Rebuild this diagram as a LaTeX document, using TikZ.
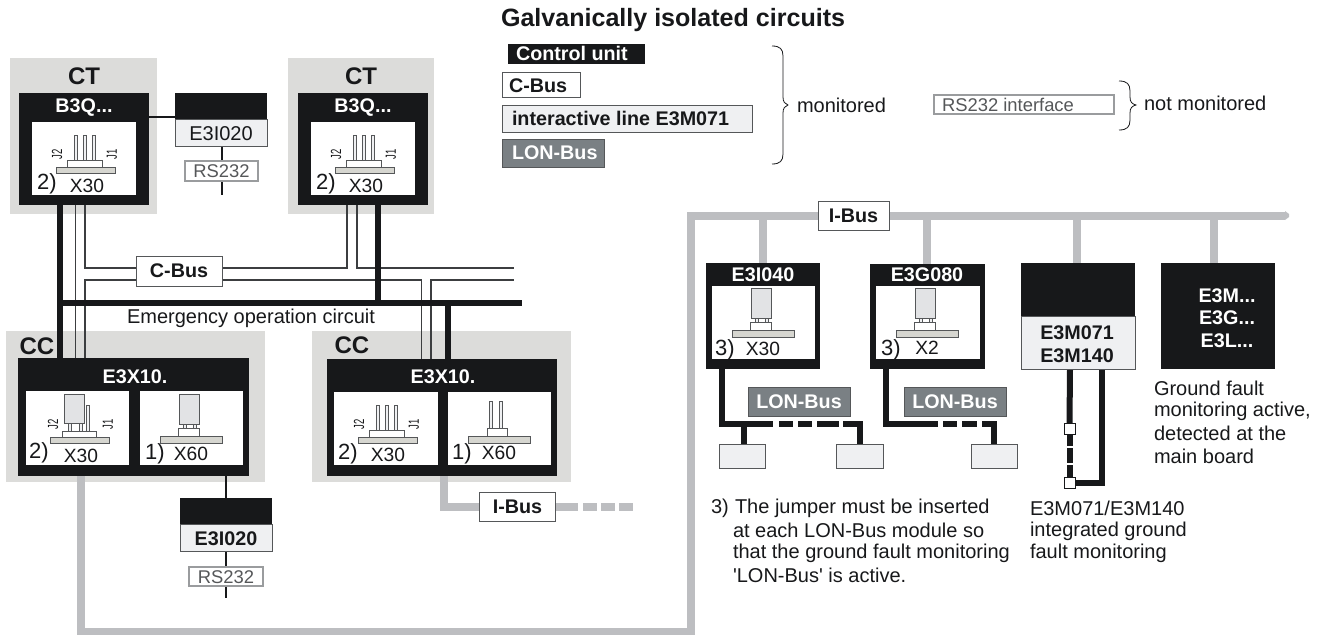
\documentclass[tikz,border=0pt]{standalone}
\usepackage{fontspec}
\setmainfont{Liberation Sans}
\newfontfamily\plainq{Liberation Sans}
\definecolor{blk}{HTML}{17181A}
\definecolor{gy}{HTML}{DCDCDA}
\definecolor{bus}{HTML}{BDBEC1}
\definecolor{lt}{HTML}{EFF0F2}
\definecolor{lon}{HTML}{7A8084}
\definecolor{edgeg}{HTML}{555759}
\definecolor{cbl}{HTML}{3C3E40}
\definecolor{rsg}{HTML}{9A9C9E}
\definecolor{plate}{HTML}{D6D6D0}
\definecolor{jmp}{HTML}{E2E3E5}
\pgfdeclarelayer{back}\pgfdeclarelayer{wires}\pgfsetlayers{back,wires,main}
\newcommand{\fs}[1]{\fontsize{#1}{#1}\selectfont}
\tikzset{
  x=0.75pt,y=-0.75pt,
  every node/.style={inner sep=0pt,outer sep=0pt},
  ggbg/.style={fill=gy,draw=none},
  blackbox/.style={fill=blk,draw=none},
  whitebox/.style={fill=white,draw=none},
  ltbox/.style={fill=lt,draw=edgeg,line width=0.7pt},
  wbus/.style={fill=white,draw=edgeg,line width=0.7pt},
  lonbox/.style={fill=lon,draw=edgeg,line width=0.7pt},
  rsbox/.style={fill=white,draw=rsg,line width=0.8pt},
  thickwire/.style={draw=blk,line width=4.5pt},
  thinwire/.style={draw=blk,line width=1.5pt},
  cbusline/.style={draw=cbl,line width=0.8pt},
  ibus/.style={draw=bus,line width=6pt},
  titlew/.style={text=white,font=\bfseries\fs{14.8}},
  titleb/.style={text=blk,font=\bfseries\fs{14.8}},
  headb/.style={text=blk,font=\bfseries\fs{18}},
  lab/.style={text=blk,font=\fs{15}},
  xlab/.style={text=blk,font=\fs{14.4}},
  numlab/.style={text=blk,font=\fs{16.5}},
  rstext/.style={text=edgeg,font=\fs{13.8}},
  para/.style={text=blk,font=\fs{15},anchor=west},
  jlab/.style={text=blk,font=\fs{11},rotate=90},
  pinr/.style={fill=plate,draw=edgeg,line width=0.5pt},
  hous/.style={fill=white,draw=edgeg,line width=0.5pt},
  jmpst/.style={fill=jmp,draw=edgeg,line width=0.6pt},
  pinst/.style={fill=lt,draw=edgeg,line width=0.4pt},
  sqst/.style={fill=white,draw=blk,line width=0.7pt},
  bracest/.style={draw=blk,line width=0.6pt},
}
\newcommand{\bx}[5]{\path[#1] (#2,#3) rectangle (#4,#5);}
% style, name, x1,y1,x2,y2, text
\newcommand{\bxn}[7]{\node[#1,minimum width={(#5-#3)*0.75pt},minimum height={(#6-#4)*0.75pt}] (#2) at ({(#3+#5)/2},{(#4+#6)/2}) {#7};}
\newcommand{\tx}[5]{\node[#1] (#2) at (#3,#4) {#5};}
\newcommand{\jt}[1]{\scalebox{.65}[1]{#1}}
\newcommand{\threepins}[2]{%
  \bx{pinst}{#1+18.5}{#2-32}{#1+21.5}{#2-6}
  \bx{pinst}{#1+27.5}{#2-32}{#1+30.5}{#2-6}
  \bx{pinst}{#1+36.5}{#2-32}{#1+39.5}{#2-6}
  \bx{hous}{#1+11}{#2-7}{#1+46}{#2}
  \bx{pinr}{#1}{#2}{#1+59}{#2+6.5}
  \node[jlab] (jb#1) at (#1+1,#2-13) {\jt{J2}};
  \node[jlab] (ja#1) at (#1+56,#2-13) {\jt{J1}};
}
\newcommand{\jumperpins}[2]{%
  \bx{pinst}{#1+36}{#2-32}{#1+39}{#2-6}
  \bx{pinst}{#1+18}{#2-14}{#1+21}{#2-6}
  \bx{pinst}{#1+29}{#2-14}{#1+32}{#2-6}
  \bx{jmpst}{#1+14}{#2-43}{#1+34}{#2-14}
  \bx{hous}{#1+12}{#2-6}{#1+46}{#2}
  \bx{pinr}{#1}{#2}{#1+59}{#2+6.5}
  \node[jlab] (jb#1) at (#1+3,#2-13) {\jt{J2}};
  \node[jlab] (ja#1) at (#1+58,#2-13) {\jt{J1}};
}
\newcommand{\jumpertwo}[2]{%
  \bx{pinst}{#1+23}{#2-12}{#1+26}{#2-6}
  \bx{pinst}{#1+33}{#2-12}{#1+36}{#2-6}
  \bx{jmpst}{#1+19}{#2-42}{#1+39}{#2-12}
  \bx{hous}{#1+18}{#2-8}{#1+39}{#2}
  \bx{pinr}{#1}{#2}{#1+62}{#2+7}
}
\newcommand{\twofree}[2]{%
  \bx{pinst}{#1+21.5}{#2-35}{#1+24.5}{#2-6}
  \bx{pinst}{#1+31.5}{#2-35}{#1+34.5}{#2-6}
  \bx{hous}{#1+19}{#2-8}{#1+39}{#2}
  \bx{pinr}{#1}{#2}{#1+62}{#2+7}
}
% open x, spine x, tip x, top y, tip y, bottom y
\newcommand{\brc}[6]{\draw[bracest] (#1,#4) .. controls (#2-3,#4) and (#2,#4+3) .. (#2,#4+10) -- (#2,#5-8) .. controls (#2,#5-3) and (#2+2,#5-1) .. (#3,#5) .. controls (#2+2,#5+1) and (#2,#5+3) .. (#2,#5+8) -- (#2,#6-10) .. controls (#2,#6-3) and (#2-3,#6) .. (#1,#6);}
\begin{document}
\begin{tikzpicture}
\useasboundingbox (0,0) rectangle (1321,635);
% ---- legend
\tx{headb,font=\bfseries\fs{18.8},anchor=west}{legt}{501}{20}{Galvanically isolated circuits}
\bxn{blackbox}{legcu}{508}{44}{645}{64}{}
\tx{titlew,anchor=west}{legcut}{516}{53}{Control unit}
\bxn{wbus}{legcb}{502}{72}{580}{97}{}
\tx{titleb,anchor=west}{legcbt}{509}{86}{C-Bus}
\bxn{ltbox}{legil}{502}{105}{752}{132}{}
\tx{titleb,anchor=west}{legilt}{512}{118}{interactive line E3M071}
\bxn{lonbox}{leglb}{502}{139}{604}{167}{}
\tx{titlew,anchor=west}{leglbt}{512}{153}{LON-Bus}
\brc{772}{783}{788}{46}{105}{164}
\tx{lab,anchor=west}{mon}{797}{105}{monitored}
\bxn{rsbox}{legrs}{934}{95}{1114}{114}{}
\tx{rstext,anchor=west}{legrst}{942}{105}{RS232 interface}
\brc{1119}{1130}{1136}{81}{105}{130}
\tx{lab,anchor=west}{nmon}{1144}{103}{not monitored}

% ---- grey backgrounds
\begin{pgfonlayer}{back}
\bxn{ggbg}{bg1}{10}{58}{157}{214}{}
\bxn{ggbg}{bg2}{288}{58}{434}{214}{}
\bxn{ggbg}{bg3}{6}{331}{265}{482}{}
\bxn{ggbg}{bg4}{312}{331}{571}{482}{}
\end{pgfonlayer}

% ---- CT units
\bxn{blackbox}{ct1}{19}{93}{149}{205}{}
\bxn{whitebox}{ct1w}{32}{122}{136}{195}{}
\tx{titlew}{ct1t}{84}{108}{B3Q...}
\tx{headb}{ct1h}{84}{76}{CT}
\threepins{56}{167}
\tx{numlab}{ct1n}{47}{184}{2)}
\tx{xlab}{ct1x}{87}{186}{X30}

\bxn{blackbox}{ct2}{298}{93}{428}{205}{}
\bxn{whitebox}{ct2w}{311}{122}{415}{195}{}
\tx{titlew}{ct2t}{363}{108}{B3Q...}
\tx{headb}{ct2h}{361}{76}{CT}
\threepins{335}{167}
\tx{numlab}{ct2n}{326}{184}{2)}
\tx{xlab}{ct2x}{366}{186}{X30}

% ---- E3I020 top
\bxn{ltbox}{e1b}{175}{119}{267}{146}{}
\bxn{blackbox}{e1a}{175}{93}{267}{119}{}
\tx{lab}{e1t}{221}{134}{E3I020}
\bxn{rsbox}{rs1}{185}{161}{258}{181}{}
\tx{rstext}{rs1t}{221.5}{171}{RS232}
\coordinate (rs1end) at (222,195);

% ---- CC units
\bxn{blackbox}{cc1}{18}{358}{249}{476}{}
\bxn{whitebox}{cc1a}{26}{391}{129}{465}{}
\bxn{whitebox}{cc1b}{140}{391}{243}{465}{}
\tx{titlew}{cc1t}{135}{377}{E3X10.}
\tx{headb}{cc1h}{37}{346}{CC}
\jumperpins{50}{437}
\jumpertwo{160}{436}
\tx{numlab}{cc1n}{39}{453}{2)}
\tx{xlab}{cc1x}{81}{456}{X30}
\tx{numlab}{cc1m}{155}{454}{1)}
\tx{xlab}{cc1y}{191}{454}{X60}

\bxn{blackbox}{cc2}{327}{359}{557}{476}{}
\bxn{whitebox}{cc2a}{334}{392}{438}{465}{}
\bxn{whitebox}{cc2b}{448}{392}{551}{465}{}
\tx{titlew}{cc2t}{443}{377}{E3X10.}
\tx{headb}{cc2h}{352}{345}{CC}
\threepins{358}{437}
\twofree{468}{436}
\tx{numlab}{cc2n}{348}{454}{2)}
\tx{xlab}{cc2x}{388}{455}{X30}
\tx{numlab}{cc2m}{462}{454}{1)}
\tx{xlab}{cc2y}{499}{453}{X60}

% ---- E3I020 bottom
\bxn{ltbox}{e2b}{180}{524}{272}{551}{}
\bxn{blackbox}{e2a}{180}{498}{272}{524}{}
\tx{titleb}{e2t}{226}{539}{E3I020}
\bxn{rsbox}{rs2}{189}{567}{263}{586}{}
\tx{rstext}{rs2t}{226}{577}{RS232}
\coordinate (rs2end) at (226,598);

% ---- C-Bus / I-Bus labels
\bxn{wbus}{cbus}{136}{256}{222}{286}{}
\tx{titleb}{cbust}{179}{271}{C-Bus}
\tx{lab}{emg}{251}{318}{Emergency operation circuit}
\bxn{wbus}{ib1}{479}{492}{555}{521}{}
\tx{titleb}{ib1t}{517.5}{506.5}{I-Bus}
\bxn{wbus}{ib2}{818}{201}{889}{230}{}
\tx{titleb}{ib2t}{853.5}{215.5}{I-Bus}

% ---- right modules
\bxn{blackbox}{m1}{706}{263}{820}{369}{}
\bxn{whitebox}{m1w}{712}{286}{815}{359}{}
\tx{titlew}{m1t}{763}{275}{E3I040}
\jumpertwo{732}{330}
\tx{numlab}{m1n}{725}{350}{3)}
\tx{xlab}{m1x}{763}{349}{X30}

\bxn{blackbox}{m2}{870}{264}{985}{369}{}
\bxn{whitebox}{m2w}{876}{286}{980}{359}{}
\tx{titlew}{m2t}{927}{275}{E3G080}
\jumpertwo{896}{330}
\tx{numlab}{m2n}{891}{350}{3)}
\tx{xlab}{m2x}{927}{348}{X2}

\bxn{ltbox}{m3b}{1021}{316}{1135}{369}{}
\bxn{blackbox}{m3a}{1021}{263}{1135}{316}{}
\tx{titleb}{m3t}{1077}{333}{E3M071}
\tx{titleb}{m3u}{1077}{356}{E3M140}

\bxn{blackbox}{m4}{1161}{263}{1275}{369}{}
\tx{titlew}{m4t}{1227}{296}{E3M...}
\tx{titlew}{m4u}{1227}{318}{E3G...}
\tx{titlew}{m4v}{1227}{341}{E3L...}

\bxn{lonbox}{lb1}{748}{387}{850}{416}{}
\tx{titlew}{lb1t}{799}{402}{LON-Bus}
\bxn{lonbox}{lb2}{904}{387}{1006}{416}{}
\tx{titlew}{lb2t}{955}{402}{LON-Bus}
\bxn{ltbox}{d1}{719}{444}{765}{468}{}
\bxn{ltbox}{d2}{836}{444}{883}{468}{}
\bxn{ltbox}{d3}{971}{444}{1017}{468}{}
\bxn{sqst}{sq1}{1064}{423}{1075}{434}{}
\bxn{sqst}{sq2}{1064}{477}{1075}{488}{}

% ---- paragraphs
\tx{para}{g1}{1154}{388}{Ground fault}
\tx{para}{g2}{1154}{411}{monitoring active,}
\tx{para}{g3}{1154}{433}{detected at the}
\tx{para}{g4}{1154}{456}{main board}
\tx{para}{p0}{711}{508}{3)}
\tx{para}{p1}{735}{508}{The jumper must be inserted}
\tx{para}{p2}{733}{530}{at each LON-Bus module so}
\tx{para}{p3}{733}{553}{that the ground fault monitoring}
\tx{para}{p4}{733}{575}{{\plainq 'LON-Bus'} is active.}
\tx{para}{q1}{1030}{508}{E3M071/E3M140}
\tx{para}{q2}{1030}{531}{integrated ground}
\tx{para}{q3}{1030}{553}{fault monitoring}

% ---- connectors
\begin{pgfonlayer}{wires}
% I-Bus
\draw[ibus] (81,0 |- cc1.south) -- (81,632) -- (691,632) -- (691,215.5) -- (ib2.west);
\draw[ibus] (ib2.east) -- (1285,215.5);
\fill[bus] (1285,211) -- (1289,214) -- (1289,217) -- (1285,220) -- cycle;
\draw[ibus] (763,215.5) -- (763,0 |- m1.north);
\draw[ibus] (927,215.5) -- (927,0 |- m2.north);
\draw[ibus] (1077,215.5) -- (1077,0 |- m3a.north);
\draw[ibus] (1214,215.5) -- (1214,0 |- m4.north);
\draw[ibus] (444,0 |- cc2.south) -- (444,506.5) -- (ib1.west);
\draw[ibus] (ib1.east) -- (578,506.5);
\draw[ibus] (583,506.5) -- (597,506.5);
\draw[ibus] (601,506.5) -- (615,506.5);
\draw[ibus] (619,506.5) -- (633,506.5);
% C-Bus
\draw[cbusline] (75.5,0 |- ct1.south) -- (75.5,0 |- cc1.north);
\draw[cbusline] (85,0 |- ct1.south) -- (85,268) -- (cbus.west |- 0,268);
\draw[cbusline] (cbus.east |- 0,268) -- (347,268) -- (347,0 |- ct2.south);
\draw[cbusline] (357,0 |- ct2.south) -- (357,268) -- (514,268);
\draw[cbusline] (85,0 |- cc1.north) -- (85,280) -- (cbus.west |- 0,280);
\draw[cbusline] (cbus.east |- 0,280) -- (421.5,280) -- (421.5,0 |- cc2.north);
\draw[cbusline] (431,0 |- cc2.north) -- (431,280) -- (514,280);
% emergency circuit
\draw[thickwire] (60,0 |- ct1.south) -- (60,0 |- cc1.north);
\draw[thickwire] (378,0 |- ct2.south) -- (378,303);
\draw[thickwire] (448,303) -- (448,0 |- cc2.north);
\draw[thickwire] (57,303) -- (522,303);
% RS232 lines
\draw[thinwire] (ct1.east |- 0,117) -- (e1a.west |- 0,117);
\draw[thinwire] (222,0 |- e1b.south) -- (rs1end);
\draw[thinwire] (226,0 |- cc1.south) -- (226,0 |- e2a.north);
\draw[thinwire] (226,0 |- e2b.south) -- (rs2end);
% LON
\draw[thickwire] (722,0 |- m1.south) -- (722,424) -- (773,424);
\draw[thickwire] (779,424) -- (793,424);
\draw[thickwire] (798,424) -- (812,424);
\draw[thickwire] (817,424) -- (839,424);
\draw[thickwire] (843,424) -- (859.5,424) -- (d2.north);
\draw[thickwire] (744,424) -- (744,0 |- d1.north);
\draw[thickwire] (886,0 |- m2.south) -- (886,424) -- (938,424);
\draw[thickwire] (943,424) -- (957,424);
\draw[thickwire] (962,424) -- (977,424);
\draw[thickwire] (982,424) -- (994,424) -- (994,0 |- d3.north);
% E3M071 loop
\draw[thickwire] (1070,0 |- m3b.south) -- (sq1.north);
\draw[thickwire] (sq1.south) -- (sq2.north);
\draw[thickwire] (1102,0 |- m3b.south) -- (1102,483) -- (sq2.east |- 0,483);
\draw[white,line width=1pt] (1066,447) -- (1074,447);
\draw[white,line width=1pt] (1066,464) -- (1074,464);
\end{pgfonlayer}
\end{tikzpicture}
\end{document}
